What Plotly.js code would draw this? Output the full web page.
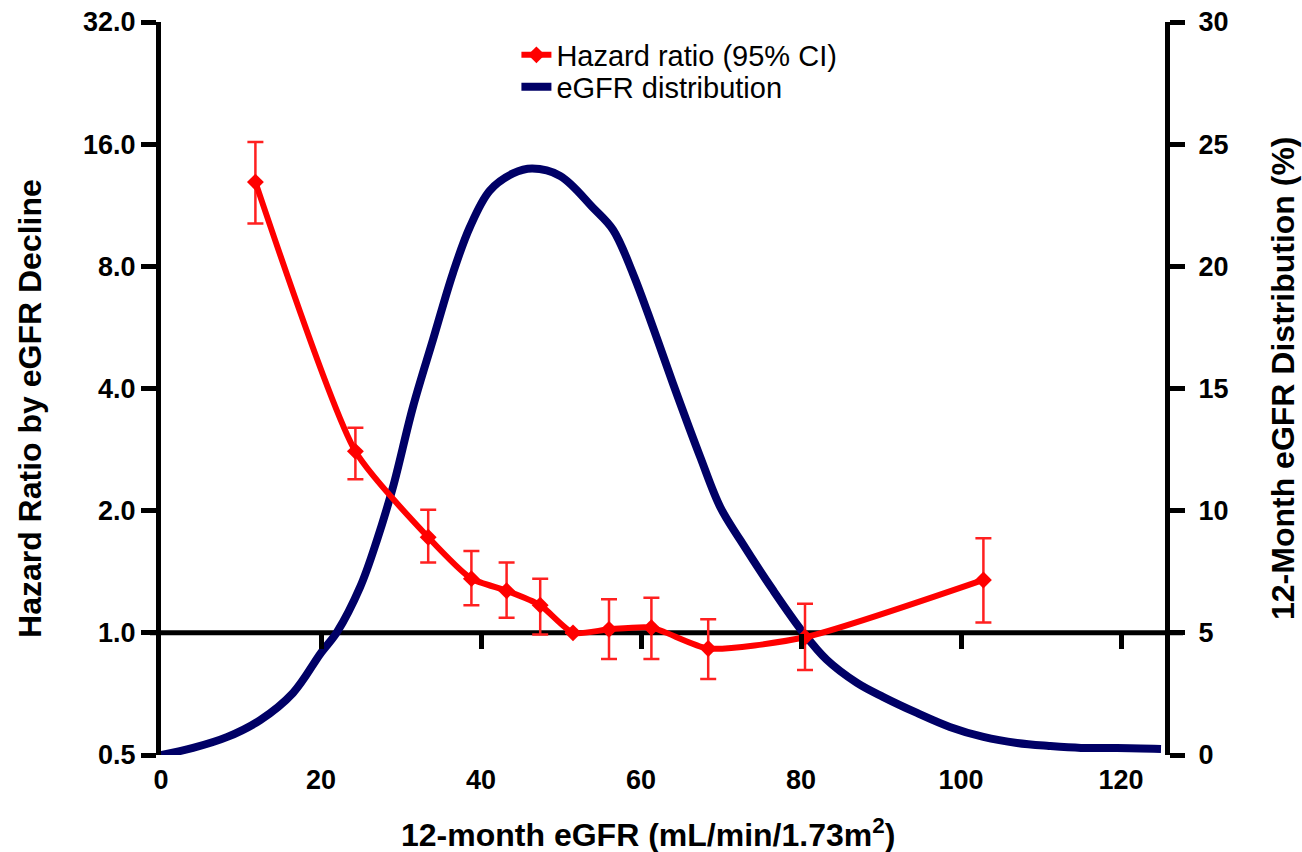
<!DOCTYPE html>
<html>
<head>
<meta charset="utf-8">
<script src="https://cdn.plot.ly/plotly-3.0.1.min.js"></script>
<style>html,body{margin:0;padding:0;background:#fff;}#chart{width:1302px;height:852px;}</style>
</head>
<body>
<div id="chart"></div>
<script>
// Hazard ratio by 12-month eGFR (left log axis)
const hrEgfr  = [11.8, 24.3, 33.4, 38.8, 43.2, 47.4, 51.5, 56.0, 61.3, 68.4, 80.5, 102.8];
const hrValue = [12.9, 2.80, 1.72, 1.36, 1.27, 1.17, 1.00, 1.02, 1.03, 0.915, 0.975, 1.35];
const hrUpper = [16.2, 3.20, 2.01, 1.59, 1.49, 1.36, 1.00, 1.21, 1.22, 1.08, 1.18, 1.71];
const hrLower = [10.2, 2.39, 1.49, 1.17, 1.09, 0.99, 1.00, 0.862, 0.862, 0.77, 0.81, 1.06];

// eGFR distribution (%) (right linear axis)
const distEgfr = [0, 4, 8.3, 12.4, 16.5, 20, 22, 24.9, 27, 29, 31.5, 34, 36.5, 38.6, 41.1, 44, 46.4, 49.9, 54, 56.5, 59, 61.5, 64, 67.4, 69.9, 72.4, 76.5, 80.3, 83.2, 87, 90.3, 94.5, 98.6, 102.8, 107, 111, 115, 119.5, 125];
const distPct  = [0, 0.29, 0.74, 1.43, 2.54, 4.18, 5.03, 6.88, 8.8, 10.97, 14.25, 17.0, 19.73, 21.6, 23.1, 23.8, 24.0, 23.7, 22.4, 21.5, 19.7, 17.5, 15.2, 12.2, 10.15, 8.8, 6.75, 5.0, 3.9, 2.95, 2.37, 1.72, 1.15, 0.74, 0.49, 0.37, 0.29, 0.29, 0.25];

const xTicks = [0, 20, 40, 60, 80, 100, 120];
const xRefTicks = [20, 40, 60, 80, 100, 120];
const hrTicks = [0.5, 1, 2, 4, 8, 16, 32];
const hrTickText = ['0.5', '1.0', '2.0', '4.0', '8.0', '16.0', '32.0'];
const pctTicks = [0, 5, 10, 15, 20, 25, 30];

const xTitle = '12-month eGFR (mL/min/1.73m<sup>2</sup>)';
const yLeftTitle = 'Hazard Ratio by eGFR Decline';
const yRightTitle = '12-Month eGFR Distribution (%)';

const FONT = 'Arial, "Liberation Sans", Helvetica, sans-serif';

const plus = hrUpper.map((u, i) => u - hrValue[i]);
const minus = hrValue.map((v, i) => v - hrLower[i]);

const traces = [
  {
    name: 'Hazard ratio (95% CI)',
    legend: 'legend',
    x: hrEgfr, y: hrValue,
    xaxis: 'x2', yaxis: 'y2',
    mode: 'lines+markers', type: 'scatter',
    line: {color: '#ff0000', width: 6, shape: 'spline', smoothing: 0.6},
    marker: {symbol: 'diamond', size: 13, color: '#ff0000'},
    error_y: {type: 'data', array: plus, arrayminus: minus, visible: true,
              color: '#ff2020', thickness: 2.5, width: 8}
  },
  {
    name: 'eGFR distribution',
    legend: 'legend2',
    x: distEgfr, y: distPct,
    xaxis: 'x', yaxis: 'y',
    mode: 'lines', type: 'scatter',
    line: {color: '#000066', width: 8, shape: 'spline', smoothing: 1.0}
  }
];

const legendFont = {size: 29, family: FONT, color: '#000'};
const layout = {
  width: 1302, height: 852,
  margin: {l: 161, r: 137, t: 22, b: 97},
  paper_bgcolor: '#fff', plot_bgcolor: 'rgba(0,0,0,0)',
  font: {family: FONT, color: '#000'},
  showlegend: true,
  legend: {x: 0.354, y: 0.955, xanchor: 'left', yanchor: 'middle',
           font: legendFont, bgcolor: 'rgba(0,0,0,0)', borderwidth: 0},
  legend2: {x: 0.354, y: 0.9113, xanchor: 'left', yanchor: 'middle',
           font: legendFont, bgcolor: 'rgba(0,0,0,0)', borderwidth: 0},
  xaxis: {
    range: [0, 125.5], anchor: 'free', position: 1/6,
    tickmode: 'array', tickvals: xRefTicks, showticklabels: false,
    ticks: 'outside', ticklen: 15, tickwidth: 5, tickcolor: '#000',
    showline: false, showgrid: false, zeroline: false
  },
  xaxis2: {
    range: [0, 125.5], overlaying: 'x', anchor: 'y', side: 'bottom',
    tickmode: 'array', tickvals: xTicks, ticks: '', ticklabelstandoff: 6,
    tickfont: {size: 27, family: FONT, weight: 'bold'},
    showline: false, showgrid: false, zeroline: false
  },
  yaxis: {
    range: [0, 30], side: 'right', anchor: 'x',
    tickmode: 'array', tickvals: pctTicks,
    ticks: 'outside', ticklen: 15, tickwidth: 5, tickcolor: '#000',
    ticklabelstandoff: 8,
    showline: true, linewidth: 5, linecolor: '#000',
    showgrid: false, zeroline: false,
    tickfont: {size: 27, family: FONT, weight: 'bold'}
  },
  yaxis2: {
    type: 'log', range: [Math.log10(0.5), Math.log10(32)],
    overlaying: 'y', side: 'left', anchor: 'x',
    tickmode: 'array', tickvals: hrTicks, ticktext: hrTickText,
    ticks: 'outside', ticklen: 15, tickwidth: 5, tickcolor: '#000',
    showline: true, linewidth: 5, linecolor: '#000',
    showgrid: false, zeroline: false,
    tickfont: {size: 27, family: FONT, weight: 'bold'}
  },
  annotations: [
    {text: xTitle, xref: 'paper', yref: 'paper', x: 0.485, y: -0.1064,
     xanchor: 'center', yanchor: 'middle', showarrow: false,
     font: {size: 32, family: FONT, weight: 'bold', color: '#000'}},
    {text: yLeftTitle, xref: 'paper', yref: 'paper', x: -0.1305, y: 0.4734,
     xanchor: 'center', yanchor: 'middle', showarrow: false, textangle: -90,
     font: {size: 32, family: FONT, weight: 'bold', color: '#000'}},
    {text: yRightTitle, xref: 'paper', yref: 'paper', x: 1.1175, y: 0.5143,
     xanchor: 'center', yanchor: 'middle', showarrow: false, textangle: -90,
     font: {size: 32, family: FONT, weight: 'bold', color: '#000'}}
  ],
  shapes: [
    {type: 'line', layer: 'below', xref: 'paper', yref: 'y2',
     x0: -0.011, x1: 1.018, y0: 1, y1: 1,
     line: {color: '#000', width: 5}}
  ]
};

Plotly.newPlot('chart', traces, layout, {displayModeBar: false, staticPlot: true});
</script>
</body>
</html>
